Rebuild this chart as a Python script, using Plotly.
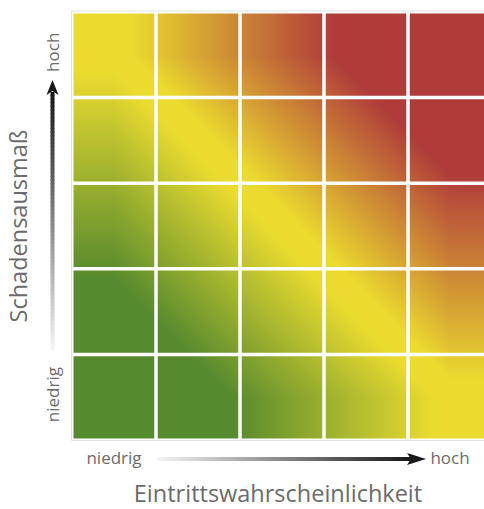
import plotly.graph_objects as go

# ---- data -------------------------------------------------------------
likelihood_idx = [0, 1, 2, 3, 4]          # Eintrittswahrscheinlichkeit (columns)
severity_idx = [0, 1, 2, 3, 4]            # Schadensausmaß (rows, bottom -> top)
risk_levels = [                            # risk class per cell (row = severity)
    [0, 1, 2, 3, 4],
    [1, 2, 3, 4, 5],
    [2, 3, 4, 5, 6],
    [3, 4, 5, 6, 7],
    [4, 5, 6, 7, 8],
]
x_tickvals = [0, 4]
x_ticktext = ["niedrig", "hoch"]
y_tickvals = [0, 4]
y_ticktext = ["niedrig", "hoch"]
x_title = "Eintrittswahrscheinlichkeit"
y_title = "Schadensausmaß"

# ---- style ------------------------------------------------------------
W, H = 484, 509
L, R, T, B = 72, 0, 12, 69
PW, PH = W - L - R, H - T - B
CELL_W = 84.0
FONT = "Open Sans"
TXT = "#6b6b6b"
GREEN, YELLOW, RED = "#568a2e", "#ebdb2f", "#b03b3b"
zmax = 8.0
colorscale = [
    [0.0, GREEN],
    [1.4 / zmax, GREEN],
    [3.8 / zmax, YELLOW],
    [4.2 / zmax, YELLOW],
    [6.6 / zmax, RED],
    [1.0, RED],
]

fig = go.Figure()
fig.add_trace(go.Heatmap(
    z=risk_levels, x=likelihood_idx, y=severity_idx,
    zmin=0, zmax=zmax, zsmooth="best", colorscale=colorscale,
    showscale=False, hoverinfo="skip",
))

def px_x(px):
    return (px - L) / PW

def px_y(py):
    return (H - B - py) / PH

shapes = []
n = len(likelihood_idx)
# white cell separators
for k in range(n - 1):
    b = k + 0.5
    shapes.append(dict(type="line", xref="x", yref="paper", x0=b, x1=b, y0=0, y1=1,
                       line=dict(color="white", width=3.5), layer="above"))
    shapes.append(dict(type="line", xref="paper", yref="y", x0=0, x1=1, y0=b, y1=b,
                       line=dict(color="white", width=3.5), layer="above"))
# outer frame
shapes.append(dict(type="rect", xref="paper", yref="paper", x0=0, x1=1.05, y0=0, y1=1,
                   line=dict(color="white", width=3), layer="above"))
shapes.append(dict(type="rect", xref="paper", yref="paper", x0=px_x(L - 0.5), x1=1.05,
                   y0=px_y(H - B + 0.5), y1=px_y(T - 1), line=dict(color="#e2e2e2", width=1),
                   layer="above"))

# gradient arrows
def gray(t):
    v = int(round(245 - (245 - 22) * t))
    return f"rgb({v},{v},{v})"

N = 70
# horizontal arrow
xs0, xs1, ya = 157, 412, 459
for i in range(N):
    a = xs0 + (xs1 - xs0) * i / N
    b2 = xs0 + (xs1 - xs0) * (i + 1.2) / N
    shapes.append(dict(type="line", xref="paper", yref="paper",
                       x0=px_x(a), x1=px_x(min(b2, xs1)), y0=px_y(ya), y1=px_y(ya),
                       line=dict(color=gray((i + 0.5) / N), width=4)))
head_x = [(426, ya), (407, ya - 6), (411, ya), (407, ya + 6)]
shapes.append(dict(type="path", xref="paper", yref="paper",
                   path="M " + " L ".join(f"{px_x(p[0])},{px_y(p[1])}" for p in head_x) + " Z",
                   fillcolor="#1a1a1a", line=dict(width=0)))
# vertical arrow
xa, yb0, yb1 = 52.5, 350, 92
for i in range(N):
    a = yb0 + (yb1 - yb0) * i / N
    b2 = yb0 + (yb1 - yb0) * (i + 1.2) / N
    shapes.append(dict(type="line", xref="paper", yref="paper",
                       x0=px_x(xa), x1=px_x(xa), y0=px_y(a), y1=px_y(max(b2, yb1)),
                       line=dict(color=gray((i + 0.5) / N), width=4)))
head_y = [(xa, 80), (xa - 6, 95), (xa, 91), (xa + 6, 95)]
shapes.append(dict(type="path", xref="paper", yref="paper",
                   path="M " + " L ".join(f"{px_x(p[0])},{px_y(p[1])}" for p in head_y) + " Z",
                   fillcolor="#1a1a1a", line=dict(width=0)))

fig.update_layout(
    width=W, height=H,
    margin=dict(l=L, r=R, t=T, b=B, pad=0),
    paper_bgcolor="white", plot_bgcolor="white",
    font=dict(family=FONT, color=TXT),
    shapes=shapes,
    xaxis=dict(
        range=[-0.5, -0.5 + PW / CELL_W], tickvals=x_tickvals, ticktext=x_ticktext,
        ticks="", showgrid=False, zeroline=False, showline=False, automargin=False,
        tickfont=dict(family=FONT, size=17, color=TXT), ticklabelstandoff=6,
        title=dict(text=x_title, font=dict(family=FONT, size=23.5, color=TXT), standoff=21),
        fixedrange=True,
    ),
    yaxis=dict(
        range=[-0.5, 4.5], tickvals=y_tickvals, ticktext=y_ticktext, tickangle=-90,
        ticks="", showgrid=False, zeroline=False, showline=False, automargin=False,
        tickfont=dict(family=FONT, size=17, color=TXT), ticklabelstandoff=9,
        title=dict(text=y_title, font=dict(family=FONT, size=23.5, color=TXT), standoff=6),
        fixedrange=True,
    ),
)

fig.write_html(
    "out.html",
    config={"displayModeBar": False},
    post_script="document.body.style.margin='0px';document.body.style.overflow='hidden';",
)
